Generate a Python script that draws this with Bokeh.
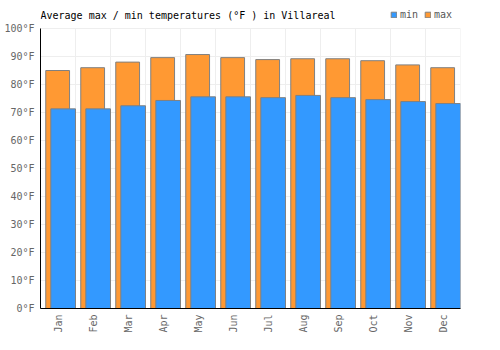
import numpy as np
from bokeh.plotting import figure
from bokeh.models import ColumnDataSource, FixedTicker, Range1d, Legend, LegendItem, Label
from bokeh.transform import dodge
from bokeh.embed import file_html
from bokeh.resources import INLINE
import math

months = ["Jan", "Feb", "Mar", "Apr", "May", "Jun", "Jul", "Aug", "Sep", "Oct", "Nov", "Dec"]
temp_max = [85, 86, 88, 89.6, 90.7, 89.6, 88.9, 89.2, 89.2, 88.5, 87, 86]
temp_min = [71.3, 71.3, 72.4, 74.3, 75.6, 75.6, 75.3, 76.1, 75.3, 74.6, 73.9, 73.2]
y_ticks = list(range(0, 101, 10))
title_text = "Average max / min temperatures (°F ) in Villareal"

FONT = "DejaVu Sans Mono"
Y_TOP = 100
# frame extends above the 100°F line to hold title and legend (2.8 px per degree)
FRAME_TOP = Y_TOP * 306 / 280

src = ColumnDataSource(dict(idx=np.arange(len(months)), mx=temp_max, mn=temp_min))

p = figure(width=500, height=350, output_backend="svg", toolbar_location=None,
           x_range=Range1d(0, 12), y_range=Range1d(0, FRAME_TOP), title=None,
           min_border_left=40, min_border_right=40, min_border_top=2, min_border_bottom=42)

# vertical grid lines at category boundaries, limited to the 0..100 band
n = len(months)
bounds = list(range(n + 1))
p.segment(x0=bounds, y0=[0] * (n + 1), x1=bounds, y1=[Y_TOP] * (n + 1),
          line_color="#eeeeee", line_width=1)

r_max = p.vbar(x=dodge("idx", 0.49), top="mx", bottom=0, width=0.68, source=src,
               fill_color="#ff9933", line_color="#808080", line_width=1)
r_min = p.vbar(x=dodge("idx", 0.647), top="mn", bottom=0, width=0.705, source=src,
               fill_color="#3399ff", line_color="#808080", line_width=1)

p.xaxis.ticker = FixedTicker(ticks=[i + 0.5 for i in range(n)])
p.xaxis.major_label_overrides = {i + 0.5: m for i, m in enumerate(months)}
p.xaxis.major_label_orientation = math.pi / 2
p.yaxis.ticker = FixedTicker(ticks=y_ticks)
p.yaxis.major_label_overrides = {t: f"{t}°F" for t in y_ticks}
p.yaxis.bounds = (0, Y_TOP)

for ax in (p.xaxis, p.yaxis):
    ax.major_label_text_font = FONT
    ax.major_label_text_font_size = "10px"
    ax.major_label_text_color = "#666666"
    ax.major_tick_line_color = None
    ax.minor_tick_line_color = None
    ax.major_tick_out = 0
    ax.major_tick_in = 0
    ax.minor_tick_out = 0
    ax.axis_line_color = "#000000"
    ax.major_label_standoff = 6

p.xgrid.visible = False
p.ygrid.ticker = FixedTicker(ticks=y_ticks)
p.ygrid.grid_line_color = "#eeeeee"
p.outline_line_color = None

title = Label(x=0, y=293.5, x_units="screen", y_units="screen", text=title_text,
              text_font=FONT, text_font_size="10px", text_color="#000000",
              text_baseline="middle", text_align="left")
p.add_layout(title)

legend = Legend(items=[LegendItem(label="min", renderers=[r_min]),
                       LegendItem(label="max", renderers=[r_max])],
                orientation="horizontal", location=(350, 288))
legend.label_text_font = FONT
legend.label_text_font_size = "10px"
legend.label_text_color = "#555555"
legend.label_height = 10
legend.glyph_width = 7
legend.glyph_height = 7
legend.spacing = 4
legend.padding = 0
legend.margin = 0
legend.label_standoff = 3
legend.border_line_color = None
legend.background_fill_alpha = 0
p.add_layout(legend, "center")

open("out.html", "w").write(file_html(p, INLINE))
